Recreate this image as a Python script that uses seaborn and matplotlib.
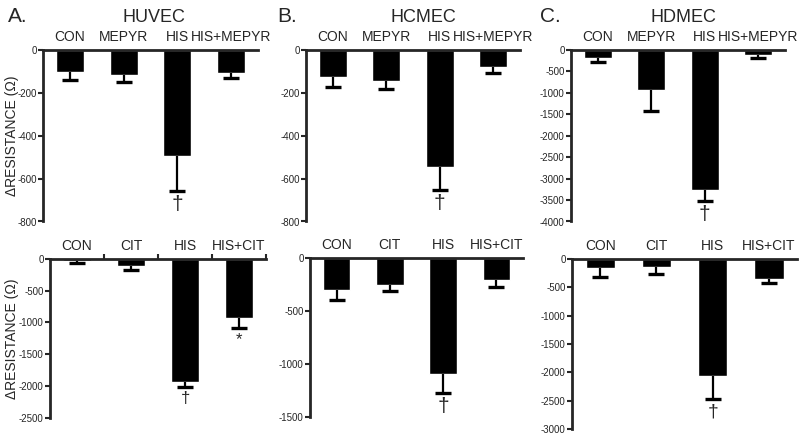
import numpy as np
import pandas as pd
import matplotlib
matplotlib.use("Agg")
import matplotlib.pyplot as plt
import seaborn as sns

sns.set_style("white")
plt.rcParams["font.family"] = ["Liberation Sans", "DejaVu Sans"]

# top row: MEPYR experiments
top_groups = ["CON", "MEPYR", "HIS", "HIS+MEPYR"]
huvec_mepyr = [-101, -117, -494, -106]
huvec_mepyr_err = [39, 31, 164, 26]
hcmec_mepyr = [-124, -145, -544, -79]
hcmec_mepyr_err = [47, 35, 109, 27]
hdmec_mepyr = [-180, -922, -3266, -117]
hdmec_mepyr_err = [101, 508, 250, 78]

# bottom row: CIT experiments
bottom_groups = ["CON", "CIT", "HIS", "HIS+CIT"]
huvec_cit = [-32, -105, -1932, -932]
huvec_cit_err = [31, 63, 78, 158]
hcmec_cit = [-306, -253, -1096, -212]
hcmec_cit_err = [89, 63, 177, 63]
hdmec_cit = [-164, -147, -2072, -358]
hdmec_cit_err = [159, 117, 399, 59]

top_marks = ["", "", "\u2020", ""]
huvec_cit_marks = ["", "", "\u2020", "*"]
bottom_marks = ["", "", "\u2020", ""]

W, H = 800, 436
fig = plt.figure(figsize=(8, 4.36), dpi=100)


def px_axes(left, top, right, bottom):
    return fig.add_axes([left / W, 1 - bottom / H, (right - left) / W, (bottom - top) / H])


def panel(ax, groups, vals, errs, marks, ymin, yticks, mark_size, boundary_ticks=False):
    df = pd.DataFrame({"group": groups, "value": vals})
    sns.barplot(data=df, x="group", y="value", order=groups, color="black",
                width=0.52, ax=ax, errorbar=None, saturation=1)
    x = np.arange(len(groups))
    lows = np.array(vals) - np.array(errs)
    # one-sided (downward) error bars
    ax.vlines(x, vals, lows, color="black", linewidth=1.6)
    ax.plot(x, lows, linestyle="none", marker="_", markersize=11,
            markeredgewidth=2.4, color="black")
    for xi, lo, m in zip(x, lows, marks):
        if m:
            ax.annotate(m, (xi, lo), xytext=(0, -3), textcoords="offset points",
                        ha="center", va="top", fontsize=mark_size)
    ax.set_xlim(-0.5, len(groups) - 0.5)
    ax.set_ylim(ymin, 0)
    ax.set_yticks(yticks)
    ax.set_yticklabels([str(t) for t in yticks], fontsize=7)
    ax.xaxis.tick_top()
    ax.set_xticks(x)
    ax.set_xticklabels(groups, fontsize=10)
    ax.tick_params(axis="x", length=0, pad=4)
    ax.tick_params(axis="y", length=3.5, width=1.5, pad=1, left=True)
    if boundary_ticks:
        ax.set_xticks(np.arange(len(groups)) + 0.5, minor=True)
        ax.tick_params(axis="x", which="minor", length=3.5, width=1.5, top=True)
    ax.set_xlabel("")
    ax.set_ylabel("")
    for s in ["right", "bottom"]:
        ax.spines[s].set_visible(False)
    ax.spines["top"].set_linewidth(2)
    ax.spines["left"].set_linewidth(2)


ax1 = px_axes(43, 50, 258, 221.5)
panel(ax1, top_groups, huvec_mepyr, huvec_mepyr_err, top_marks, -800,
      [0, -200, -400, -600, -800], 15)
ax2 = px_axes(306, 50, 520, 221.5)
panel(ax2, top_groups, hcmec_mepyr, hcmec_mepyr_err, top_marks, -800,
      [0, -200, -400, -600, -800], 15)
ax3 = px_axes(571, 50, 785, 221.5)
panel(ax3, top_groups, hdmec_mepyr, hdmec_mepyr_err, top_marks, -4000,
      list(range(0, -4001, -500)), 15)

ax4 = px_axes(50, 259, 266, 417.7)
panel(ax4, bottom_groups, huvec_cit, huvec_cit_err, huvec_cit_marks, -2500,
      list(range(0, -2501, -500)), 12, boundary_ticks=True)
ax5 = px_axes(310, 258, 523, 416.7)
panel(ax5, bottom_groups, hcmec_cit, hcmec_cit_err, bottom_marks, -1500,
      [0, -500, -1000, -1500], 15)
ax6 = px_axes(572, 259, 797, 429)
panel(ax6, bottom_groups, hdmec_cit, hdmec_cit_err, bottom_marks, -3000,
      list(range(0, -3001, -500)), 14)

ax1.set_ylabel("\u0394RESISTANCE (\u03a9)", fontsize=10)
ax1.yaxis.set_label_coords((19 - 43) / 215, 0.5)
ax4.set_ylabel("\u0394RESISTANCE (\u03a9)", fontsize=10)
ax4.yaxis.set_label_coords((19 - 50) / 216, 0.5)

fig.text(8 / W, 1 - 17 / H, "A.", fontsize=15, va="center", ha="left")
fig.text(154 / W, 1 - 17 / H, "HUVEC", fontsize=13, va="center", ha="center")
fig.text(277 / W, 1 - 17 / H, "B.", fontsize=15, va="center", ha="left")
fig.text(423 / W, 1 - 17 / H, "HCMEC", fontsize=13, va="center", ha="center")
fig.text(540 / W, 1 - 17 / H, "C.", fontsize=15, va="center", ha="left")
fig.text(683 / W, 1 - 17 / H, "HDMEC", fontsize=13, va="center", ha="center")

fig.savefig("out.png", dpi=100)
